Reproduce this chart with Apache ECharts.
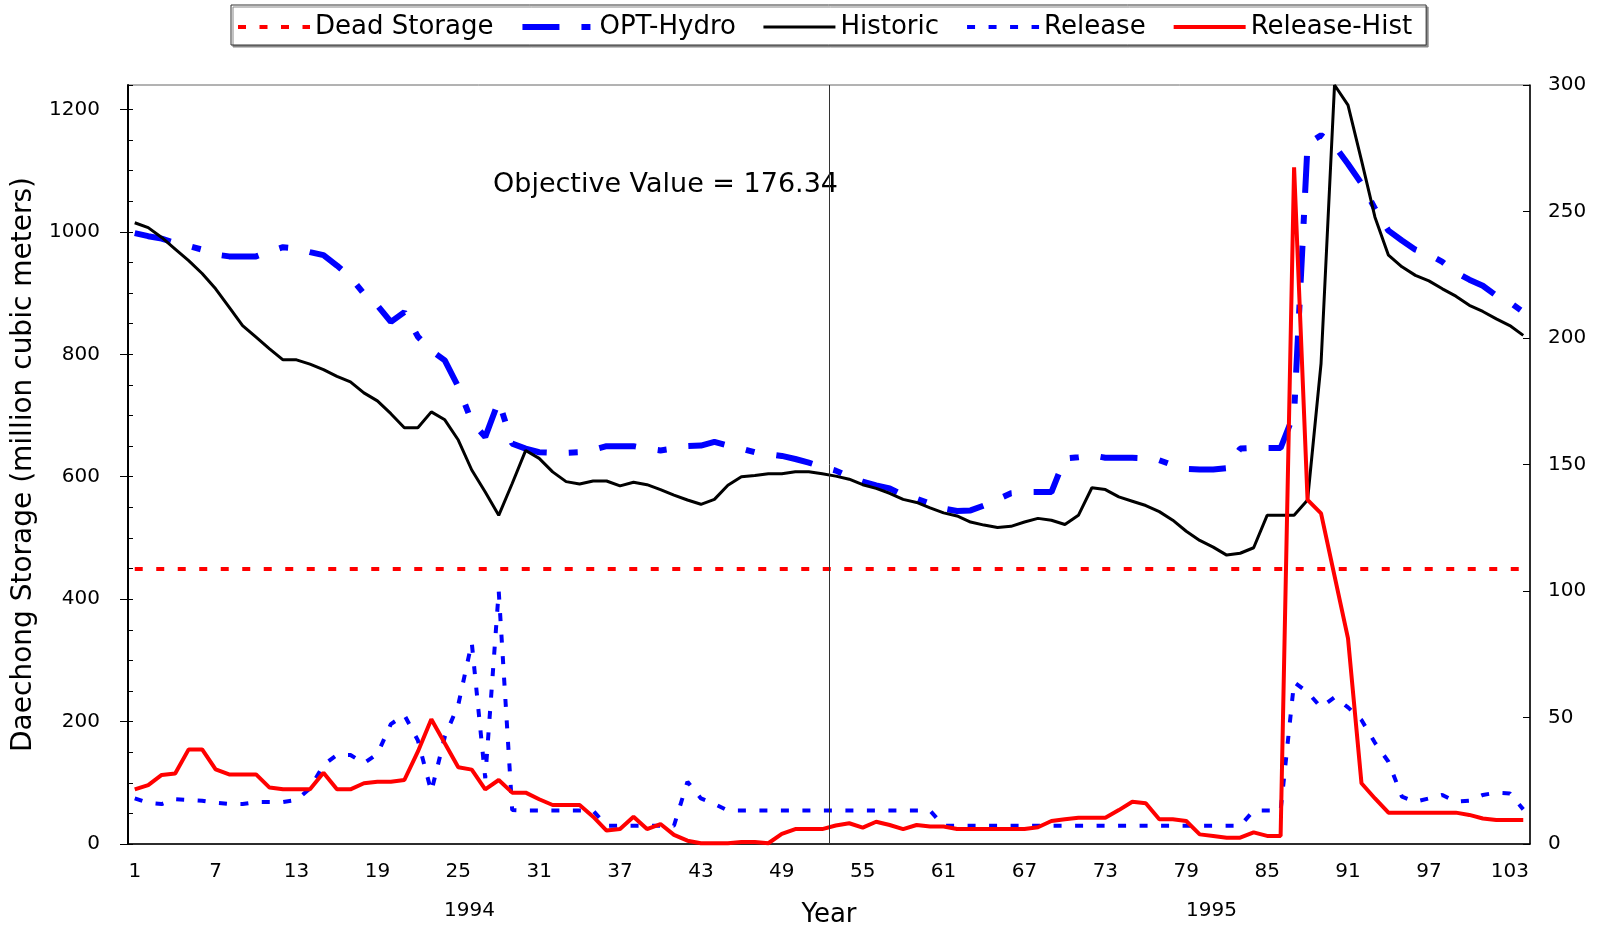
<!DOCTYPE html>
<html>
<head>
<meta charset="utf-8">
<title>Daechong Storage</title>
<script src="https://cdn.jsdelivr.net/npm/echarts@6/dist/echarts.min.js"></script>
<style>
  html, body { margin: 0; padding: 0; background: #fff; }
  #chart { width: 1600px; height: 926px; }
</style>
</head>
<body>
<div id="chart"></div>
<script>
// weekly index, two years (1994, 1995)
const weeks = [];
for (let i = 1; i <= 104; i++) weeks.push(String(i));

const leftTicks = [0, 200, 400, 600, 800, 1000, 1200];
const rightTicks = [0, 50, 100, 150, 200, 250, 300];
const yearLabels = ['1994', '1995'];
const deadStorage = 450;

// storage, million m3 (left axis)
const optHydro = [
  998, 993, 989, 982, 977, 971, 963, 960, 960, 960,
  968, 975, 973, 967, 962, 945, 926, 899, 880, 853,
  869, 829, 806, 790, 747, 690, 665, 724, 654, 646,
  640, 639, 639, 640, 644, 650, 650, 650, 646, 643,
  646, 650, 651, 657, 651, 646, 640, 637, 634, 629,
  623, 616, 610, 600, 592, 586, 581, 570, 564, 556,
  548, 544, 545, 553, 563, 573, 575, 575, 575, 630,
  632, 635, 631, 631, 631, 630, 627, 619, 613, 612,
  612, 614, 646, 647, 647, 647, 703, 1144, 1158, 1141,
  1111, 1079, 1038, 1002, 986, 971, 963, 951, 934, 922,
  912, 896, 885, 869
];
const historic = [
  1015, 1007, 991, 972, 953, 932, 907, 877, 847, 828,
  809, 791, 791, 784, 775, 764, 755, 737, 724, 703,
  680, 680, 706, 693, 660, 611, 575, 537, 589, 643,
  630, 608, 592, 588, 593, 593, 585, 591, 587, 579,
  570, 562, 555, 563, 586, 600, 602, 605, 605, 608,
  608, 605, 601, 596, 587, 581, 573, 563, 558, 549,
  541, 536, 526, 521, 517, 519, 526, 532, 529, 522,
  537, 582, 579, 567, 560, 553, 543, 529, 511, 496,
  485, 472, 475, 484, 537, 537, 537, 562, 785, 1240,
  1207, 1117, 1024, 962, 943, 929, 920, 907, 895, 880,
  870, 858, 847, 831
];

// release (right axis)
const release = [
  18, 16.3, 15.8, 17.7, 17.4, 17.1, 16.3, 15.8, 15.8, 16.6,
  16.6, 16.6, 17.4, 22, 31.2, 35.2, 35.2, 31.9, 35.6, 47.4,
  51, 41, 20.7, 42.4, 55, 79.6, 26, 100, 13.4, 13.2,
  13.2, 13.2, 13.2, 13.2, 13.2, 7.2, 7.2, 7.2, 7.2, 7.2,
  7.2, 24.6, 18, 15.8, 13.2, 13.2, 13.2, 13.2, 13.2, 13.2,
  13.2, 13.2, 13.2, 13.2, 13.2, 13.2, 13.2, 13.2, 13.2, 13.2,
  7.2, 7.2, 7.2, 7.2, 7.2, 7.2, 7.2, 7.2, 7.2, 7.2,
  7.2, 7.2, 7.2, 7.2, 7.2, 7.2, 7.2, 7.2, 7.2, 7.2,
  7.2, 7.2, 7.2, 13.2, 13.2, 13.2, 64, 60, 54, 58,
  54, 49, 40, 32.5, 18.7, 16.7, 18, 19.4, 16.7, 17.1,
  19.4, 20.3, 20, 13.7
];
const releaseHist = [
  21.6, 23.3, 27.3, 27.9, 37.4, 37.4, 29.5, 27.5, 27.5, 27.5,
  22.3, 21.6, 21.6, 21.6, 28.2, 21.6, 21.6, 24, 24.6, 24.6,
  25.3, 36.5, 49.3, 39.8, 30.3, 29.4, 21.6, 25.3, 20.3, 20.3,
  17.7, 15.4, 15.4, 15.4, 10.8, 5.3, 5.9, 10.8, 5.9, 7.9,
  3.6, 1.3, 0.3, 0.3, 0.3, 0.8, 0.8, 0.3, 4, 5.9,
  5.9, 5.9, 7.3, 8.2, 6.5, 8.8, 7.5, 5.9, 7.5, 6.9,
  6.9, 5.9, 5.9, 5.9, 5.9, 5.9, 5.9, 6.6, 9.1, 9.8,
  10.4, 10.4, 10.4, 13.4, 16.7, 16.1, 9.8, 9.8, 9.1, 3.8,
  3.2, 2.5, 2.5, 4.6, 3.2, 3.2, 267.5, 136, 130.7, 106,
  81.3, 24, 18, 12.4, 12.4, 12.4, 12.4, 12.4, 12.4, 11.5,
  10.1, 9.5, 9.5, 9.5
];

const FONT = 'DejaVu Sans';
const chart = echarts.init(document.getElementById('chart'));

const styles = {
  'Dead Storage': { color: '#ff0000', width: 4, type: [8, 13.5] },
  'OPT-Hydro': { color: '#0000ff', width: 6, type: [37, 22, 9, 22] },
  'Historic': { color: '#000000', width: 3, type: 'solid' },
  'Release': { color: '#0000ff', width: 4, type: [8, 13.5] },
  'Release-Hist': { color: '#ff0000', width: 4, type: 'solid' }
};
const hiddenSymbol = { color: 'rgba(0,0,0,0)', borderWidth: 0, opacity: 0 };

const option = {
  animation: false,
  backgroundColor: '#fff',
  textStyle: { fontFamily: FONT, color: '#000' },
  legend: {
    data: Object.keys(styles).map(name => ({
      name: name,
      lineStyle: styles[name],
      itemStyle: hiddenSymbol
    })),
    top: 5,
    left: 231,
    itemWidth: 72,
    itemHeight: 14,
    itemGap: 26,
    padding: [9, 14, 5, 5],
    borderColor: '#333',
    borderWidth: 1,
    backgroundColor: '#fff',
    shadowColor: '#888',
    shadowOffsetX: 2,
    shadowOffsetY: 2,
    textStyle: { fontSize: 26, fontFamily: FONT, color: '#000' }
  },
  grid: {
    left: 128,
    right: 70,
    top: 85,
    bottom: 82,
    outerBoundsMode: 'none',
    show: true,
    borderColor: '#666',
    borderWidth: 1
  },
  xAxis: [
    {
      type: 'category',
      data: weeks,
      boundaryGap: true,
      axisLine: { lineStyle: { color: '#000', width: 1.5 } },
      axisTick: { show: false },
      axisLabel: { interval: 5, fontSize: 20, margin: 18, color: '#000', fontFamily: FONT },
      splitLine: { show: false },
      name: 'Year',
      nameLocation: 'middle',
      nameGap: 58,
      nameTextStyle: { fontSize: 26, fontFamily: FONT, color: '#000' }
    },
    {
      // helper axis for the divider between the two years
      type: 'value',
      min: 0.5,
      max: 104.5,
      show: false
    }
  ],
  yAxis: [
    {
      type: 'value',
      position: 'left',
      min: 0,
      max: 1240,
      interval: 50,
      axisLine: { show: true, lineStyle: { color: '#000', width: 2 } },
      axisTick: { show: true, inside: true, length: 5, lineStyle: { color: '#000' } },
      axisLabel: {
        margin: 28, fontSize: 20, color: '#000', fontFamily: FONT,
        formatter: v => (leftTicks.indexOf(v) >= 0 ? String(v) : '')
      },
      splitLine: { show: false },
      name: 'Daechong Storage (million cubic meters)',
      nameLocation: 'middle',
      nameGap: 86,
      nameTextStyle: { fontSize: 28, fontFamily: FONT, color: '#000' }
    },
    {
      type: 'value',
      position: 'right',
      min: 0,
      max: 300,
      interval: 50,
      axisLine: { show: true, lineStyle: { color: '#000', width: 1.5 } },
      axisTick: { show: true, inside: true, length: 7, lineStyle: { color: '#000' } },
      axisLabel: {
        margin: 18, fontSize: 20, color: '#000', fontFamily: FONT,
        formatter: v => (rightTicks.indexOf(v) >= 0 ? String(v) : '')
      },
      splitLine: { show: false }
    },
    {
      // outer half of the major ticks on the left
      type: 'value',
      position: 'left',
      min: 0,
      max: 1240,
      axisLine: { show: false },
      axisTick: { show: true, length: 8, customValues: leftTicks, lineStyle: { color: '#000' } },
      axisLabel: { show: false },
      splitLine: { show: false }
    }
  ],
  graphic: [
    {
      type: 'text', left: 493, top: 171,
      style: { text: 'Objective Value = 176.34', font: '27px "DejaVu Sans"', fill: '#000' }
    },
    {
      type: 'text', left: 444, top: 901,
      style: { text: yearLabels[0], font: '20px "DejaVu Sans"', fill: '#000' }
    },
    {
      type: 'text', left: 1186, top: 901,
      style: { text: yearLabels[1], font: '20px "DejaVu Sans"', fill: '#000' }
    }
  ],
  series: [
    {
      name: 'Dead Storage',
      type: 'line',
      data: [],
      symbol: 'none',
      itemStyle: { color: styles['Dead Storage'].color },
      lineStyle: styles['Dead Storage'],
      markLine: {
        silent: true,
        symbol: 'none',
        label: { show: false },
        lineStyle: styles['Dead Storage'],
        data: [[
          { xAxis: weeks[0], yAxis: deadStorage },
          { xAxis: weeks[weeks.length - 1], yAxis: deadStorage }
        ]]
      }
    },
    {
      name: 'OPT-Hydro',
      type: 'line',
      data: optHydro,
      symbol: 'none',
      itemStyle: { color: styles['OPT-Hydro'].color },
      lineStyle: styles['OPT-Hydro']
    },
    {
      name: 'Historic',
      type: 'line',
      data: historic,
      symbol: 'none',
      itemStyle: { color: styles['Historic'].color },
      lineStyle: styles['Historic']
    },
    {
      name: 'Release',
      type: 'line',
      yAxisIndex: 1,
      data: release,
      symbol: 'none',
      itemStyle: { color: styles['Release'].color },
      lineStyle: styles['Release']
    },
    {
      name: 'Release-Hist',
      type: 'line',
      yAxisIndex: 1,
      data: releaseHist,
      symbol: 'none',
      itemStyle: { color: styles['Release-Hist'].color },
      lineStyle: styles['Release-Hist']
    },
    {
      name: 'divider',
      type: 'line',
      xAxisIndex: 1,
      yAxisIndex: 0,
      data: [],
      markLine: {
        silent: true,
        symbol: 'none',
        label: { show: false },
        lineStyle: { color: '#333', width: 1, type: 'solid' },
        data: [{ xAxis: 52.5 }]
      }
    }
  ]
};

chart.setOption(option);
window.addEventListener('resize', function () {
  chart.resize();
});
</script>
</body>
</html>
